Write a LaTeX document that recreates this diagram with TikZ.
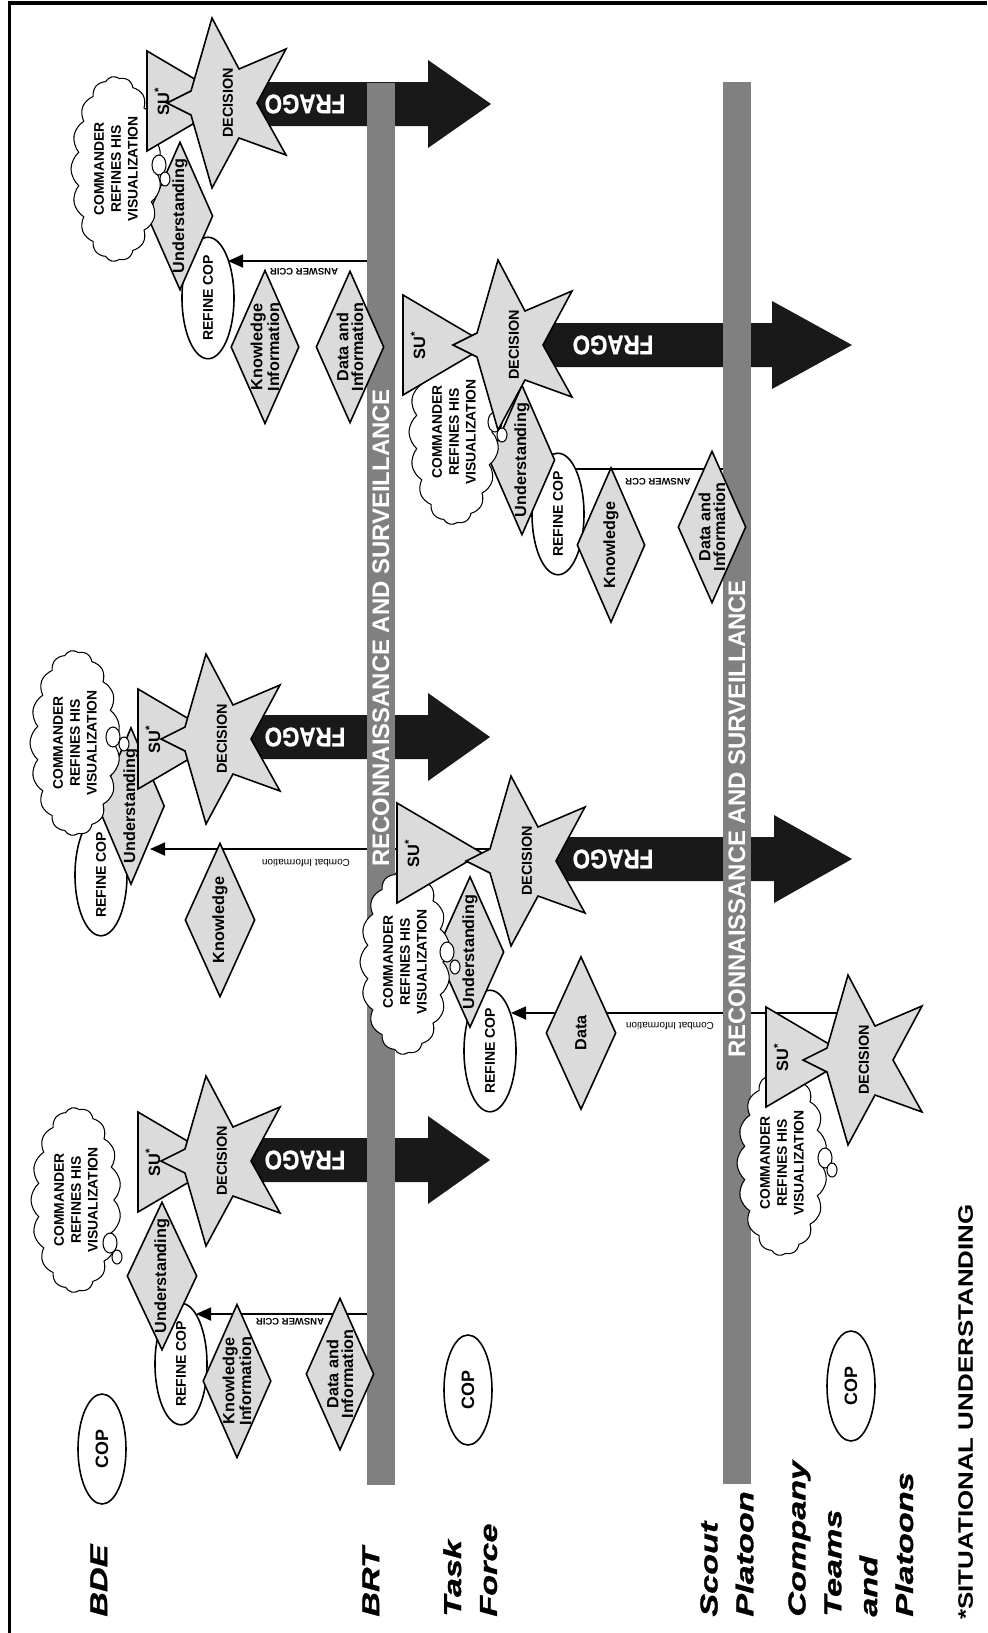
\documentclass[tikz,border=0pt]{standalone}
\usepackage{fontspec}
\setmainfont{Liberation Sans}
\newfontfamily\levelfont[FakeStretch=1.4,FakeBold=1.2]{Liberation Sans}
\newfontfamily\notefont[FakeStretch=1.24]{Liberation Sans}
\newfontfamily\fragofont[FakeStretch=0.83,FakeBold=0.8]{Liberation Sans}
\usepackage{tikz}
\usetikzlibrary{shapes,arrows.meta,positioning,calc}

\definecolor{shapegray}{gray}{0.86}
\definecolor{bargray}{gray}{0.5}
\definecolor{fragoblack}{gray}{0.1}

\pgfdeclarelayer{back}
\pgfsetlayers{back,main}

\tikzset{
  shapeline/.style={draw=black, line width=0.9pt},
  startext/.style={rotate=90, inner sep=0pt, font=\fontsize{8.2}{9}\selectfont\bfseries},
  sutext/.style={rotate=90, inner sep=0pt, font=\fontsize{9.3}{10}\selectfont\bfseries},
  fragotext/.style={rotate=180, text=white, inner sep=0pt, font=\fontsize{15.3}{16}\fragofont\bfseries},
  infobox/.style={diamond, shapeline, fill=shapegray, rotate=90, aspect=2.25, inner sep=0pt, align=center, minimum width=30.4mm, minimum height=13.6mm, font=\fontsize{9.2}{8.3}\selectfont\bfseries},
  copbox/.style={ellipse, shapeline, fill=white, rotate=90, inner sep=0pt, minimum width=23.2mm, minimum height=10.4mm, font=\fontsize{8}{9}\selectfont\bfseries},
  copoval/.style={ellipse, shapeline, fill=white, rotate=90, inner sep=0pt, minimum width=22mm, minimum height=9.6mm, font=\fontsize{10.2}{11}\selectfont\bfseries},
  thought/.style={cloud, cloud puffs=17, cloud puff arc=100, cloud ignores aspect, draw=black, line width=0.6pt, fill=white, rotate=90, inner sep=0pt, minimum width=37mm, minimum height=18mm, align=center, font=\fontsize{7.9}{9.6}\selectfont\bfseries},
  bubble/.style={draw=black, line width=0.6pt, fill=white},
  rsbar/.style={rectangle, fill=bargray, rotate=90, minimum width=280.2mm, minimum height=5.6mm, inner sep=0pt},
  rstext/.style={rotate=90, text=white, inner sep=0pt, font=\fontsize{13.6}{14}\selectfont\bfseries},
  infoline/.style={line width=1pt},
  infoarrow/.style={infoline, -{Triangle[length=3mm,width=2.6mm]}},
  answerlab/.style={rotate=180, inner sep=0pt, font=\fontsize{5.4}{6}\selectfont\bfseries},
  combatlab/.style={rotate=180, inner sep=0pt, font=\fontsize{5.7}{6}\selectfont},
  level/.style={rotate=90, anchor=north west, inner sep=0pt, align=left, font=\fontsize{13.9}{20.4}\levelfont\bfseries\itshape},
  footnote/.style={rotate=90, anchor=north west, inner sep=0pt, font=\fontsize{11.9}{12}\notefont\bfseries},
}

% DECISION star: name, centre x, centre y
\newcommand{\decisionstar}[3]{%
  \begin{scope}[shift={(#2,#3)}]
    \draw[shapeline, fill=shapegray] (-66,0) -- (-42,-12) -- (-21,-85) -- (6,-34) -- (53,-54) -- (24,0)
      -- (53,52) -- (6,35) -- (-21,85) -- (-42,12) -- cycle;
    \node[startext] (#1) at (-5,0) {DECISION};
  \end{scope}}

% SU* triangle: name, base x, centre y
\newcommand{\sutriangle}[3]{%
  \begin{scope}[shift={(#2,#3)}]
    \draw[shapeline, fill=shapegray] (0,-50) -- (85,0) -- (0,50) -- cycle;
    \node[sutext] (#1) at (15,0) {SU\textsuperscript{*}};
  \end{scope}}

% FRAGO arrow: name, tail x, head x, tip x, centre y, text x
\newcommand{\fragoarrow}[6]{%
  \begin{scope}[shift={(0,#5)}]
    \fill[fragoblack] (#2,-22) -- (#3,-22) -- (#3,-44) -- (#4,0) -- (#3,44) -- (#3,22) -- (#2,22) -- cycle;
    \node[fragotext] (#1) at (#6,0) {FRAGO};
  \end{scope}}

\begin{document}
\begin{tikzpicture}[x=0.2mm, y=-0.2mm]
    \useasboundingbox (0,0) rectangle (987,1633);
    \draw[line width=2pt] (9.5,1633) -- (9.5,3) -- (987,3);

    % reconnaissance and surveillance bars
    \node[rsbar] (bar1) at (381,784) {};
    \node[rsbar] (bar2) at (737,783) {};
    \node[rstext] (rs1) at (381,628) {RECONNAISSANCE AND SURVEILLANCE};
    \node[rstext] (rs2) at (737,819) {RECONNAISSANCE AND SURVEILLANCE};

    % echelons
    \node[level] (bde) at (90,1617) {BDE};
    \node[level] (brt) at (362,1617) {BRT};
    \node[level] (tf) at (443,1617) {Task\\Force};
    \node[level] (scout) at (700,1617) {Scout\\Platoon};
    \node[level] (company) at (788,1617) {Company\\Teams\\and\\Platoons};
    \node[footnote] (sunote) at (958,1620) {*SITUATIONAL UNDERSTANDING};
    \node[copoval] (cop1) at (102,1449) {COP};
    \node[copoval] (cop2) at (468,1390) {COP};
    \node[copoval] (cop3) at (851,1386) {COP};

    % BDE, first cycle
    \node[copbox] (refine1) at (208,298) {REFINE COP};
    \node[infobox] (know1) at (265,347) {Knowledge\\Information};
    \node[infobox] (data1) at (350,347) {Data and\\Information};
    \node[infobox, minimum width=29.2mm, minimum height=12.8mm] (under1) at (180,216) {Understanding};
    \node[thought] (cmd1) at (116,169) {COMMANDER\\REFINES HIS\\VISUALIZATION};
    \draw[bubble] (159,165) ellipse [x radius=1.4mm, y radius=2mm];
    \draw[bubble] (165,179) ellipse [x radius=1mm, y radius=1.4mm];
    \sutriangle{su1}{147}{101}
    \decisionstar{dec1}{233}{103}

    % task force, first cycle
    \node[copbox] (refine2) at (558,514) {REFINE COP};
    \node[infobox, minimum width=31mm] (know2) at (611,545) {Knowledge};
    \node[infobox] (data2) at (712,527) {Data and\\Information};
    \node[infobox, minimum width=30mm, minimum height=12.2mm] (under2) at (522,460) {Understanding};
    \node[thought] (cmd2) at (454,432) {COMMANDER\\REFINES HIS\\VISUALIZATION};
    \draw[bubble] (495,422) ellipse [x radius=1.4mm, y radius=2mm];
    \draw[bubble] (502,435) ellipse [x radius=1mm, y radius=1.4mm];
    \sutriangle{su2}{403}{345}
    \decisionstar{dec2}{519}{345}

    % BDE, second cycle
    \node[copbox] (refine3) at (101,875) {REFINE COP};
    \node[infobox, minimum width=30.8mm, minimum height=14mm] (know3) at (220,920) {Knowledge};
    \node[infobox, minimum width=31.4mm, minimum height=13.4mm] (under3) at (131,806) {Understanding};
    \node[thought] (cmd3) at (75,743) {COMMANDER\\REFINES HIS\\VISUALIZATION};
    \draw[bubble] (113,737) ellipse [x radius=1.4mm, y radius=2mm];
    \draw[bubble] (124,744) ellipse [x radius=1mm, y radius=1.4mm];
    \sutriangle{su3}{138}{739}
    \decisionstar{dec3}{227}{739}

    % task force, second cycle
    \node[copbox] (refine4) at (490,1051) {REFINE COP};
    \node[infobox, minimum width=30.6mm, minimum height=14mm] (data4) at (581,1033) {Data};
    \node[infobox, minimum width=30.2mm, minimum height=13.6mm] (under4) at (470,952) {Understanding};
    \node[thought] (cmd4) at (405,962) {COMMANDER\\REFINES HIS\\VISUALIZATION};
    \draw[bubble] (447,952) ellipse [x radius=1.4mm, y radius=2mm];
    \draw[bubble] (455,967) ellipse [x radius=1mm, y radius=1.4mm];
    \sutriangle{su4}{397}{853}
    \decisionstar{dec4}{532}{861}

    % BDE, third cycle
    \node[copbox] (refine5) at (181,1364) {REFINE COP};
    \node[infobox] (know5) at (237,1381) {Knowledge\\Information};
    \node[infobox] (data5) at (340,1374) {Data and\\Information};
    \node[infobox, minimum width=29.6mm, minimum height=14mm] (under5) at (162,1276) {Understanding};
    \node[thought] (cmd5) at (76,1200) {COMMANDER\\REFINES HIS\\VISUALIZATION};
    \draw[bubble] (110,1243) ellipse [x radius=1.4mm, y radius=2mm];
    \draw[bubble] (117,1257) ellipse [x radius=1mm, y radius=1.4mm];
    \sutriangle{su5}{138}{1162}
    \decisionstar{dec5}{227}{1161}

    % scout platoon
    \node[thought] (cmd6) at (782,1163) {COMMANDER\\REFINES HIS\\VISUALIZATION};
    \draw[bubble] (825,1158) ellipse [x radius=1.4mm, y radius=2mm];
    \draw[bubble] (832,1170) ellipse [x radius=1mm, y radius=1.4mm];
    \sutriangle{su6}{766}{1057}
    \decisionstar{dec6}{869}{1060}

    % reports and FRAGOs behind everything
    \coordinate (tip1) at (228,261);
    \coordinate (end2) at (575,469);
    \coordinate (tip3) at (150,849);
    \coordinate (tip4) at (511,1013);
    \coordinate (tip5) at (196,1314);
    \begin{pgfonlayer}{back}
        \draw[infoarrow] (bar1.north |- tip1) -- (tip1);
        \draw[infoline] (bar2.north |- end2) -- (end2);
        \draw[infoarrow] (dec4 |- tip3) -- (tip3);
        \draw[infoarrow] (dec6 |- tip4) -- (tip4);
        \draw[infoarrow] (bar1.north |- tip5) -- (tip5);
        \fragoarrow{frago1}{243}{428}{491}{104}{305}
        \fragoarrow{frago2}{529}{772}{852}{345}{613}
        \fragoarrow{frago3}{237}{428}{490}{737}{305}
        \fragoarrow{frago4}{542}{774}{852}{859}{613}
        \fragoarrow{frago5}{237}{428}{490}{1160}{305}
    \end{pgfonlayer}
    \node[answerlab] (ans1) at (304,272) {ANSWER CCIR};
    \node[answerlab] (ans2) at (658,482) {ANSWER CCR};
    \node[answerlab] (ans5) at (290,1322) {ANSWER CCIR};
    \node[combatlab] (ci3) at (306,863) {Combat Information};
    \node[combatlab] (ci4) at (670,1026) {Combat Information};
\end{tikzpicture}
\end{document}
